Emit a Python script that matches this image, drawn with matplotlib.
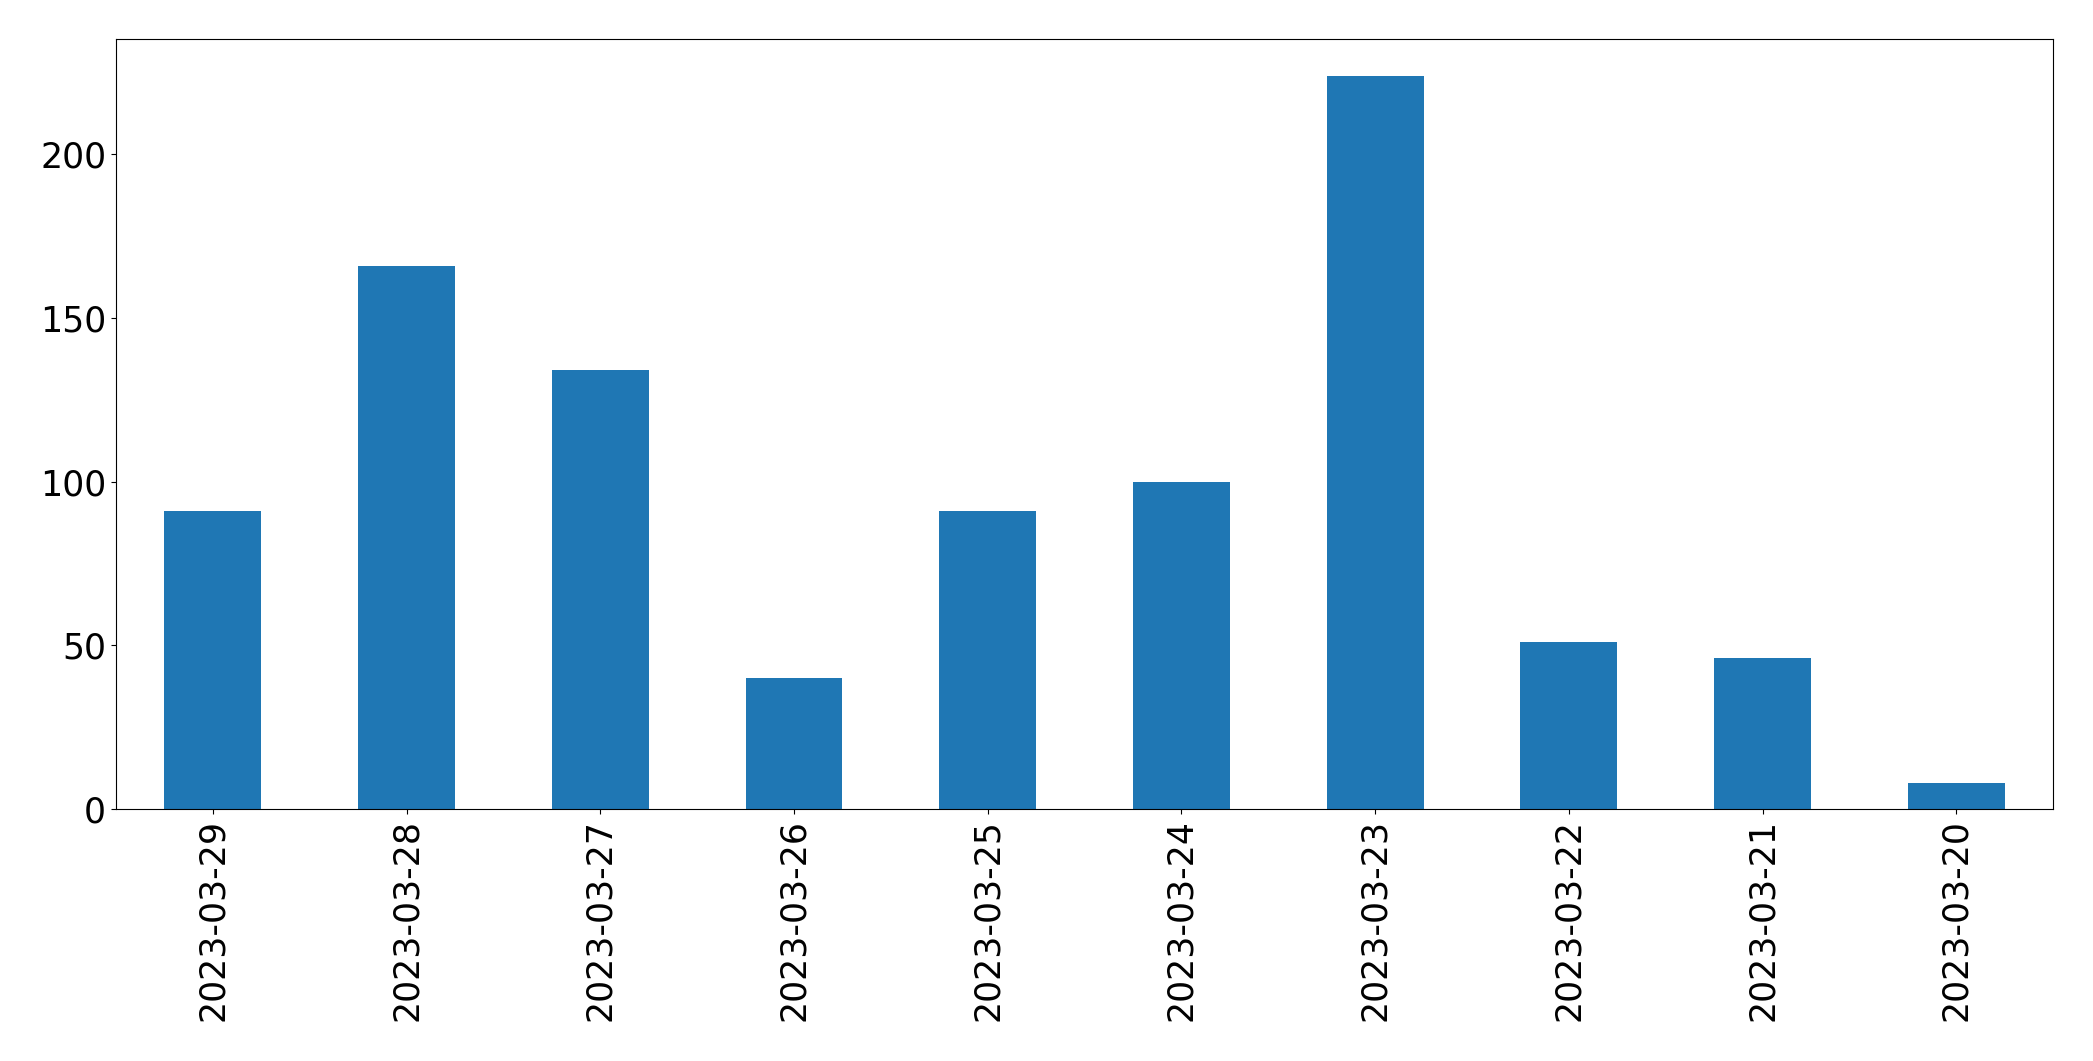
import matplotlib
matplotlib.use("Agg")
import matplotlib.pyplot as plt

dates = ["2023-03-29", "2023-03-28", "2023-03-27", "2023-03-26", "2023-03-25",
         "2023-03-24", "2023-03-23", "2023-03-22", "2023-03-21", "2023-03-20"]
counts = [91, 166, 134, 40, 91, 100, 224, 51, 46, 8]

fig = plt.figure(figsize=(20.93, 10.61), dpi=100)
ax = fig.add_axes([0.0554, 0.2375, 0.9256, 0.7255])
x = list(range(len(dates)))
ax.bar(x, counts, width=0.5, color="#1f77b4")
ax.set_xlim(-0.5, len(dates) - 0.5)
ax.set_xticks(x)
ax.set_xticklabels(dates, rotation=90, fontsize=25)
ax.tick_params(axis="y", labelsize=25)
fig.savefig("out.png", dpi=100)
